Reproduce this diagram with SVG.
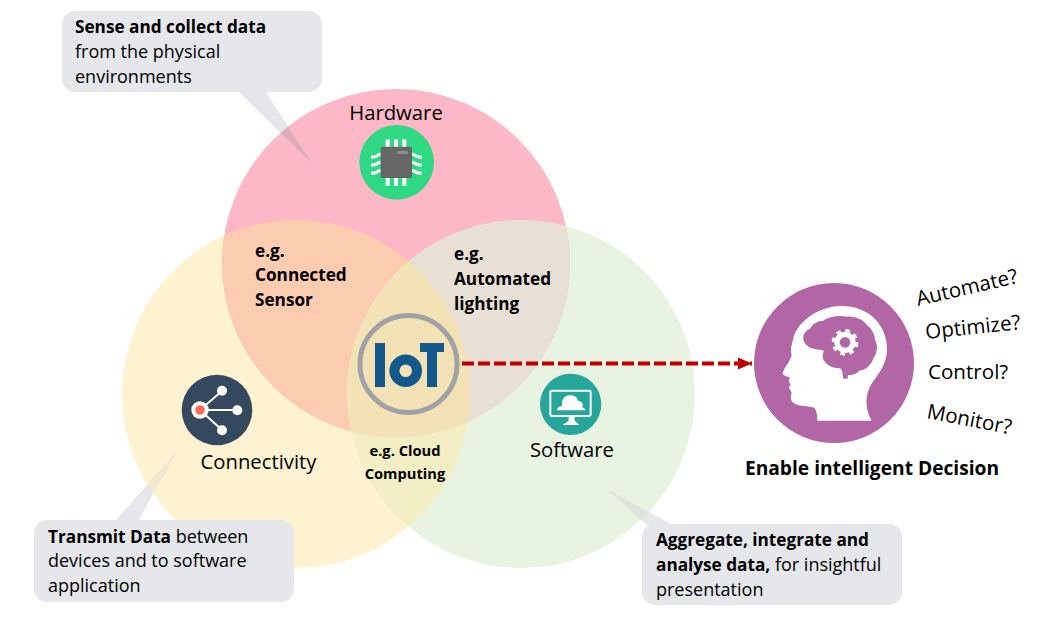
<svg xmlns="http://www.w3.org/2000/svg" width="1045" height="636" viewBox="0 0 1045 636">
<style>
text{font-family:"Open Sans","Noto Sans","Liberation Sans",sans-serif;font-size:18px;fill:#000}
.b{font-weight:700;font-size:17.2px}
.s{font-weight:700;font-size:14.7px}
.lab{font-size:20.3px}
.q{font-size:20.6px}
.callout{fill:#E6E7EB}
</style>
<defs>
<clipPath id="cH"><circle cx="396" cy="263" r="174"/></clipPath>
<clipPath id="cC"><circle cx="296" cy="394" r="174"/></clipPath>
<clipPath id="cS"><circle cx="521" cy="394" r="174"/></clipPath>
<path id="tailH" d="M238 91L313 165L265 91Z"/>
<path id="tailC" d="M115 521L178 450L138 521Z"/>
<path id="tailS" d="M608 490L647 525L673 525Z"/>
<marker id="arr" markerUnits="userSpaceOnUse" markerWidth="14" markerHeight="12" refX="14" refY="6" orient="auto"><path d="M0 0L14 6L0 12Z" fill="#C00000"/></marker>
</defs>
<rect width="1045" height="636" fill="#fff"/>
<g id="venn">
<circle id="circle-connectivity" cx="296" cy="394" r="174" fill="#FEF2D0"/>
<circle id="circle-software" cx="521" cy="394" r="174" fill="#E9F3E2"/>
<circle id="circle-hardware" cx="396" cy="263" r="174" fill="#FCB8C7"/>
<g clip-path="url(#cC)"><circle cx="396" cy="263" r="174" fill="#FBCCB0"/><circle cx="521" cy="394" r="174" fill="#F3EEC4"/></g>
<g clip-path="url(#cS)"><circle cx="396" cy="263" r="174" fill="#E8E0D4"/></g>
<g clip-path="url(#cS)"><g clip-path="url(#cC)"><circle cx="396" cy="263" r="174" fill="#F2E2B5"/></g></g>
</g>
<g id="connectors">
<path d="M462 363.500H752" fill="none" stroke="#C00000" stroke-width="4" stroke-dasharray="12 4" marker-end="url(#arr)"/>
</g>
<g id="callout-hardware">
<use href="#tailH" class="callout"/>
<g clip-path="url(#cH)"><use href="#tailH" fill="#E0ABB9"/></g>
<rect class="callout" x="62" y="11" width="260" height="81" rx="13"/>
<text x="75" y="33" class="b">Sense and collect data</text>
<text x="75" y="58">from the physical</text>
<text x="75" y="83">environments</text>
</g>
<g id="callout-connectivity">
<use href="#tailC" class="callout"/>
<g clip-path="url(#cC)"><use href="#tailC" fill="#F1E9D0"/></g>
<rect class="callout" x="34" y="520" width="260" height="82" rx="13"/>
<text x="48" y="543"><tspan class="b">Transmit Data</tspan> between</text>
<text x="48" y="567">devices and to software</text>
<text x="48" y="592">application</text>
</g>
<g id="callout-software">
<use href="#tailS" class="callout"/>
<g clip-path="url(#cS)"><use href="#tailS" fill="#DEE5DB"/></g>
<rect class="callout" x="642" y="524" width="260" height="81" rx="13"/>
<text x="656" y="546" class="b">Aggregate, integrate and</text>
<text x="656" y="571"><tspan class="b">analyse data,</tspan> for insightful</text>
<text x="656" y="596">presentation</text>
</g>
<g id="node-hardware">
<text x="396" y="120" class="lab" text-anchor="middle">Hardware</text>
<g transform="translate(340 90) scale(.33333)">
<circle cx="170" cy="217" r="112" fill="#2FD984"/>
<g fill="#fff"><rect x="137" y="148" width="12" height="24"/><rect x="162" y="148" width="12" height="24"/><rect x="187" y="148" width="12" height="24"/>
<rect x="137" y="262" width="12" height="25"/><rect x="162" y="262" width="12" height="25"/><rect x="187" y="262" width="12" height="25"/></g>
<path d="M93 202Q108 202 122 191M93 225Q108 225 122 215M93 250Q108 250 122 240M245 202Q230 202 216 191M245 225Q230 225 216 215M245 250Q230 250 216 240" stroke="#fff" stroke-width="9" fill="none"/>
<rect x="122" y="170" width="94" height="94" rx="5" fill="#666"/>
<rect x="172" y="183" width="32" height="9" fill="#8E8E8E"/>
</g>
</g>
<g id="node-connectivity">
<circle cx="217" cy="410" r="35.300" fill="#34495E"/>
<path d="M200 410L222 391M200 410H237M200 410L222 430" stroke="#fff" stroke-width="2"/>
<circle cx="222" cy="390.700" r="5" fill="#fff"/><circle cx="237.300" cy="410.300" r="5" fill="#fff"/><circle cx="222" cy="430.300" r="5" fill="#fff"/>
<circle cx="200" cy="410" r="8.700" fill="#fff"/><circle cx="200" cy="410" r="4.800" fill="#FF6B55"/>
<text x="258.500" y="469" class="lab" text-anchor="middle">Connectivity</text>
</g>
<g id="node-software">
<g transform="translate(340 300) scale(.33333)">
<circle cx="692" cy="313" r="92" fill="#26A69A"/>
<rect x="631" y="272" width="121" height="76" rx="5" fill="none" stroke="#fff" stroke-width="6"/>
<path d="M650 331C652 322 660 318 666 318C664 300 672 287 688 286C702 284 712 292 714 302C728 304 732 316 726 322C732 324 736 328 737 331Z" fill="#fff"/>
<path d="M686 351H704V362L718 375H668L686 362Z" fill="#fff"/>
</g>
<text x="572" y="457" class="lab" text-anchor="middle">Software</text>
</g>
<g id="node-iot">
<circle cx="408.500" cy="364" r="48.500" fill="none" stroke="#A0A2A5" stroke-width="5"/>
<rect x="375" y="343" width="10" height="44" fill="#14598C"/>
<circle cx="405.700" cy="370.700" r="11.300" fill="none" stroke="#14598C" stroke-width="10"/>
<path d="M420 343H444V352H437V387H427V352H420Z" fill="#14598C"/>
</g>
<g id="labels">
<text x="255" y="257" class="b">e.g.</text>
<text x="255" y="281" class="b">Connected</text>
<text x="255" y="306" class="b">Sensor</text>
<text x="454" y="260" class="b">e.g.</text>
<text x="454" y="285" class="b">Automated</text>
<text x="454" y="310" class="b">lighting</text>
<text x="405" y="456" class="s" text-anchor="middle">e.g. Cloud</text>
<text x="405" y="479" class="s" text-anchor="middle">Computing</text>
</g>
<g id="node-decision">
<circle cx="834" cy="363" r="80" fill="#B266A6"/>
<g transform="translate(740 260) scale(.33333)">
<path d="M127 340C135 320 150 305 155 285C150 270 155 255 160 235C170 190 230 140 300 138C380 135 440 190 441 265C441 320 410 345 390 380C375 410 375 445 395 482H232C232 465 230 450 222 443C205 437 180 440 165 432C152 425 150 410 155 398L147 383L152 372C145 368 145 360 150 352C142 350 130 348 127 340Z" fill="#fff"/>
<path d="M190 232C190 218 205 208 212 205C215 192 235 182 250 182C265 170 300 165 322 170C345 168 372 180 380 195C395 205 405 225 405 240C415 255 412 280 400 295C395 315 375 332 358 332C345 345 335 345 325 345L322 356H310C308 345 308 330 300 325C285 325 262 318 255 305C245 295 248 280 252 272C235 268 218 268 208 262C198 255 188 245 190 232Z" fill="#B266A6"/>
<circle cx="315" cy="247" r="24" fill="none" stroke="#fff" stroke-width="16"/>
<circle cx="315" cy="247" r="35" fill="none" stroke="#fff" stroke-width="10" stroke-dasharray="13.700 13.790"/>
</g>
<text x="872" y="475" style="font-size:19.200px;font-weight:700" text-anchor="middle">Enable intelligent Decision</text>
</g>
<g id="questions">
<text class="q" transform="translate(918 306) rotate(-13)">Automate?</text>
<text class="q" transform="translate(926 339) rotate(-6)">Optimize?</text>
<text class="q" x="928" y="379">Control?</text>
<text class="q" transform="translate(926 418) rotate(11)">Monitor?</text>
</g>
</svg>
